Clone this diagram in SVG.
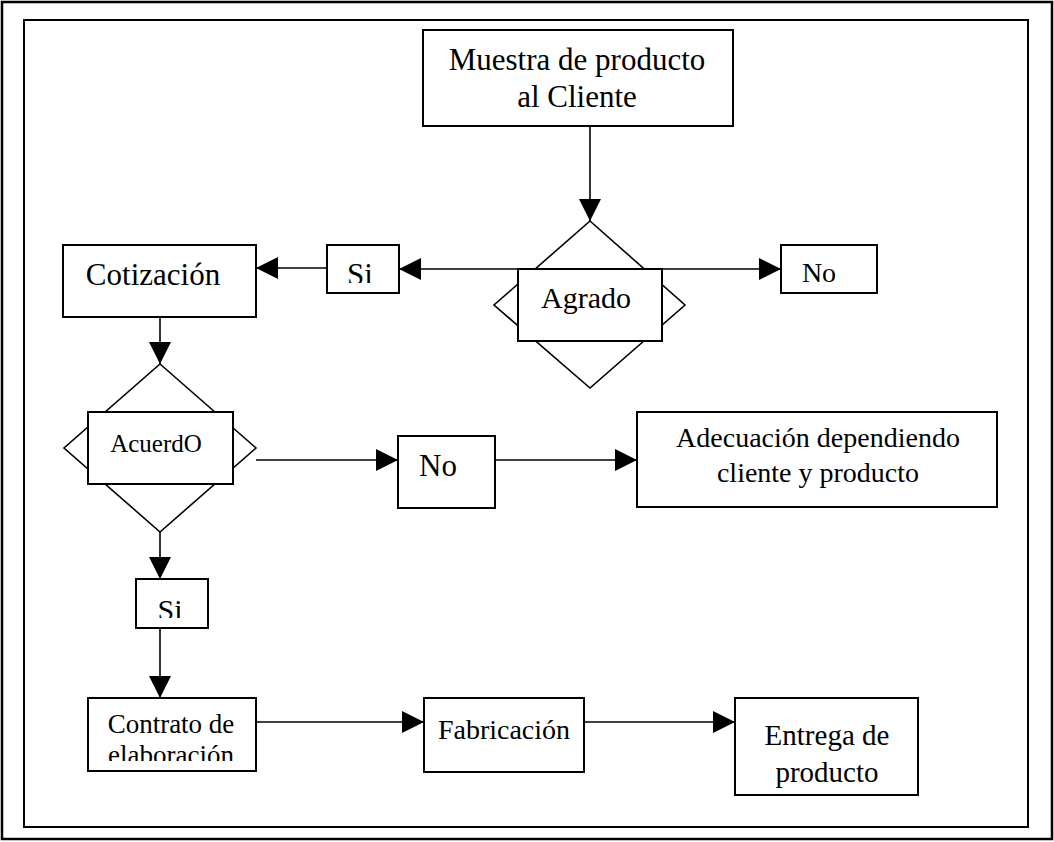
<svg xmlns="http://www.w3.org/2000/svg" width="1054" height="842" viewBox="0 0 1054 842">
  <style>
    .box { fill: #fff; stroke: #000; stroke-width: 2; }
    .dia { fill: #fff; stroke: #000; stroke-width: 1.6; }
    .lbl { font-family: "Liberation Serif", "Times New Roman", serif; fill: #000; text-anchor: middle; }
    .edge { stroke: #000; stroke-width: 1.6; fill: none; marker-end: url(#arrow); }
  </style>
  <defs>
    <marker id="arrow" markerUnits="userSpaceOnUse" markerWidth="22" markerHeight="22" viewBox="0 0 20 20" refX="20" refY="10" orient="auto">
      <path d="M0,0 L20,10 L0,20 Z" fill="#000"/>
    </marker>
    <clipPath id="clipSiTop"><rect x="328" y="246" width="70" height="37"/></clipPath>
    <clipPath id="clipSiLow"><rect x="137" y="580" width="70" height="38"/></clipPath>
    <clipPath id="clipContrato"><rect x="89" y="699" width="166" height="62"/></clipPath>
  </defs>

  <!-- page frames -->
  <rect x="2" y="2" width="1050" height="837" fill="#fff" stroke="#000" stroke-width="2.5"/>
  <rect x="24" y="20" width="1004" height="807" fill="none" stroke="#000" stroke-width="2"/>

  <!-- connectors -->
  <g id="connectors">
    <line class="edge" x1="590" y1="126" x2="590" y2="221"/>
    <line class="edge" x1="590" y1="269" x2="399" y2="269"/>
    <line class="edge" x1="590" y1="269" x2="781" y2="269"/>
    <line class="edge" x1="327" y1="268" x2="256" y2="268"/>
    <line class="edge" x1="160" y1="317" x2="160" y2="364"/>
    <line class="edge" x1="256" y1="460" x2="398" y2="460"/>
    <line class="edge" x1="495" y1="460" x2="637" y2="460"/>
    <line class="edge" x1="160" y1="532" x2="160" y2="579"/>
    <line class="edge" x1="160" y1="628" x2="160" y2="698"/>
    <line class="edge" x1="256" y1="722" x2="424" y2="722"/>
    <line class="edge" x1="584" y1="722" x2="735" y2="722"/>
  </g>

  <g id="muestra">
    <rect class="box" x="423" y="30" width="310" height="96"/>
    <text class="lbl" x="577" y="70" font-size="31">Muestra de producto</text>
    <text class="lbl" x="577" y="107" font-size="31">al Cliente</text>
  </g>

  <g id="agrado">
    <polygon class="dia" points="590,221 685,305 590,388 494,305"/>
    <rect class="box" x="518" y="269" width="144" height="72"/>
    <line x1="518" y1="269" x2="662" y2="269" stroke="#000" stroke-width="1.6"/>
    <text class="lbl" x="586" y="308" font-size="30">Agrado</text>
  </g>

  <g id="si-agrado">
    <rect class="box" x="327" y="245" width="72" height="48"/>
    <text class="lbl" x="360" y="285" font-size="31" clip-path="url(#clipSiTop)">Si</text>
  </g>

  <g id="no-agrado">
    <rect class="box" x="781" y="245" width="96" height="48"/>
    <text class="lbl" x="819" y="282" font-size="28">No</text>
  </g>

  <g id="cotizacion">
    <rect class="box" x="63" y="245" width="193" height="72"/>
    <text class="lbl" x="153" y="285" font-size="31">Cotización</text>
  </g>

  <g id="acuerdo">
    <polygon class="dia" points="160,364 256,448 160,532 64,448"/>
    <rect class="box" x="88" y="412" width="145" height="72"/>
    <text class="lbl" x="156" y="452" font-size="25">AcuerdO</text>
  </g>

  <g id="no-acuerdo">
    <rect class="box" x="398" y="436" width="97" height="72"/>
    <text class="lbl" x="438" y="476" font-size="31">No</text>
  </g>

  <g id="adecuacion">
    <rect class="box" x="637" y="412" width="360" height="95"/>
    <text class="lbl" x="818" y="447" font-size="28">Adecuación dependiendo</text>
    <text class="lbl" x="818" y="482" font-size="28">cliente y producto</text>
  </g>

  <g id="si-acuerdo">
    <rect class="box" x="136" y="579" width="72" height="49"/>
    <text class="lbl" x="170" y="620" font-size="30" clip-path="url(#clipSiLow)">Si</text>
  </g>

  <g id="contrato">
    <rect class="box" x="88" y="698" width="168" height="73"/>
    <g clip-path="url(#clipContrato)">
      <text class="lbl" x="171" y="733" font-size="27">Contrato de</text>
      <text class="lbl" x="171" y="764" font-size="27">elaboración</text>
    </g>
  </g>

  <g id="fabricacion">
    <rect class="box" x="424" y="698" width="160" height="74"/>
    <text class="lbl" x="504" y="739" font-size="28">Fabricación</text>
  </g>

  <g id="entrega">
    <rect class="box" x="735" y="698" width="183" height="97"/>
    <text class="lbl" x="827" y="745" font-size="29">Entrega de</text>
    <text class="lbl" x="827" y="782" font-size="29">producto</text>
  </g>
</svg>
